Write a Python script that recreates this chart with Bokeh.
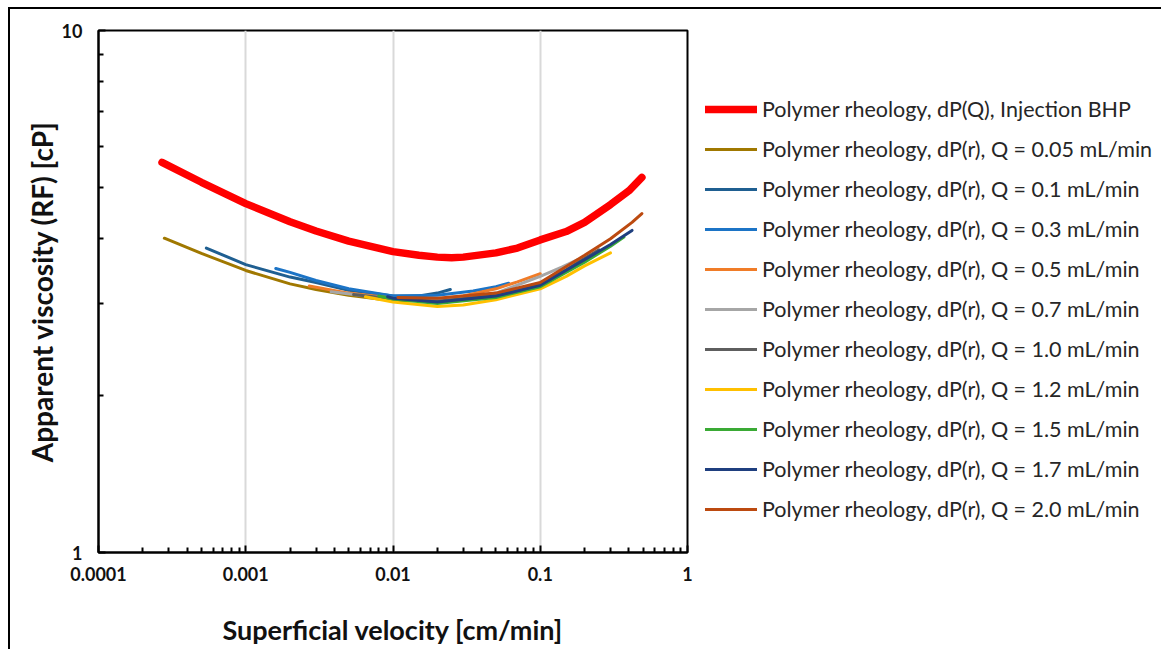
from bokeh.plotting import figure
from bokeh.layouts import row
from bokeh.models import FixedTicker, CustomJSTickFormatter, Legend, LegendItem
from bokeh.embed import file_html
from bokeh.resources import INLINE

# ---------------- data ----------------
x_major = [1e-4, 1e-3, 1e-2, 1e-1, 1.0]
x_minor = [k * 10.0 ** e for e in range(-4, 0) for k in range(2, 10)]
y_major = [1, 10]
y_minor = [2, 3, 4, 5, 6, 7, 8, 9]

red_x = [0.00027, 0.0005, 0.001, 0.002, 0.003, 0.005, 0.01, 0.015, 0.02, 0.025,
         0.03, 0.05, 0.07, 0.1, 0.15, 0.2, 0.3, 0.4, 0.49]
red_y = [5.59, 5.12, 4.66, 4.30, 4.13, 3.95, 3.77, 3.71, 3.68, 3.67,
         3.68, 3.75, 3.83, 3.97, 4.12, 4.29, 4.64, 4.93, 5.23]

q005_x = [0.00028, 0.0005, 0.001, 0.002, 0.003, 0.005, 0.008, 0.0125]
q005_y = [4.00, 3.74, 3.47, 3.27, 3.19, 3.11, 3.06, 3.03]

q01_x = [0.00054, 0.001, 0.002, 0.003, 0.005, 0.01, 0.015, 0.02, 0.0245]
q01_y = [3.83, 3.56, 3.37, 3.29, 3.18, 3.10, 3.10, 3.14, 3.19]

q03_x = [0.0016, 0.002, 0.003, 0.005, 0.01, 0.02, 0.035, 0.05, 0.061]
q03_y = [3.50, 3.44, 3.32, 3.20, 3.10, 3.11, 3.17, 3.23, 3.28]

q05_x = [0.0027, 0.005, 0.01, 0.02, 0.03, 0.05, 0.07, 0.1]
q05_y = [3.24, 3.14, 3.07, 3.06, 3.10, 3.20, 3.30, 3.42]

q07_x = [0.0038, 0.006, 0.01, 0.02, 0.05, 0.1, 0.14, 0.18]
q07_y = [3.16, 3.11, 3.06, 3.04, 3.14, 3.38, 3.52, 3.64]

q10_x = [0.0054, 0.01, 0.02, 0.05, 0.1, 0.15, 0.2, 0.25]
q10_y = [3.12, 3.06, 3.03, 3.11, 3.28, 3.48, 3.66, 3.80]

q12_x = [0.0065, 0.01, 0.02, 0.03, 0.05, 0.1, 0.15, 0.2, 0.3]
q12_y = [3.09, 3.02, 2.96, 2.98, 3.05, 3.20, 3.38, 3.54, 3.75]

q15_x = [0.008, 0.01, 0.02, 0.05, 0.1, 0.2, 0.3, 0.37]
q15_y = [3.10, 3.06, 3.00, 3.08, 3.23, 3.60, 3.86, 4.02]

q17_x = [0.0092, 0.01, 0.02, 0.05, 0.1, 0.2, 0.3, 0.42]
q17_y = [3.09, 3.07, 3.02, 3.10, 3.25, 3.64, 3.89, 4.14]

q20_x = [0.0108, 0.02, 0.05, 0.1, 0.2, 0.3, 0.42, 0.49]
q20_y = [3.08, 3.07, 3.14, 3.29, 3.71, 3.99, 4.29, 4.46]

labels = ["Polymer rheology, dP(Q), Injection BHP",
          "Polymer rheology, dP(r), Q = 0.05 mL/min",
          "Polymer rheology, dP(r), Q = 0.1 mL/min",
          "Polymer rheology, dP(r), Q = 0.3 mL/min",
          "Polymer rheology, dP(r), Q = 0.5 mL/min",
          "Polymer rheology, dP(r), Q = 0.7 mL/min",
          "Polymer rheology, dP(r), Q = 1.0 mL/min",
          "Polymer rheology, dP(r), Q = 1.2 mL/min",
          "Polymer rheology, dP(r), Q = 1.5 mL/min",
          "Polymer rheology, dP(r), Q = 1.7 mL/min",
          "Polymer rheology, dP(r), Q = 2.0 mL/min"]
colors = ["#FF0000", "#A07800", "#1F5F91", "#1C74C6", "#F07C28", "#A6A6A6",
          "#5E5E5E", "#FFC000", "#3AAA35", "#1F3F7F", "#BC4A10"]
widths = [7.5, 3, 3, 3, 3, 3, 3, 3, 3, 3, 3]
series = [(red_x, red_y), (q005_x, q005_y), (q01_x, q01_y), (q03_x, q03_y),
          (q05_x, q05_y), (q07_x, q07_y), (q10_x, q10_y), (q12_x, q12_y),
          (q15_x, q15_y), (q17_x, q17_y), (q20_x, q20_y)]

FONT = "Lato"
H = 640
TOP = 21
BOTTOM = H - 543

p = figure(width=687, height=H, x_axis_type="log", y_axis_type="log",
           x_range=(1e-4, 1), y_range=(1, 10), output_backend="svg",
           toolbar_location=None, min_border_left=88, min_border_right=10,
           min_border_top=TOP, min_border_bottom=BOTTOM)
p.background_fill_color = "white"
p.border_fill_color = "white"
p.outline_line_color = "black"
p.outline_line_width = 2

xt = FixedTicker(ticks=x_major, minor_ticks=x_minor)
yt = FixedTicker(ticks=y_major, minor_ticks=y_minor)
p.xaxis.ticker = xt
p.yaxis.ticker = yt
p.xgrid.ticker = xt
p.xgrid.grid_line_color = "#D9D9D9"
p.xgrid.grid_line_width = 2
p.ygrid.grid_line_color = None

p.xaxis.formatter = CustomJSTickFormatter(code="""
const e = Math.round(Math.log10(tick));
if (e >= 0) return String(Math.round(tick));
return '0.' + '0'.repeat(-e - 1) + '1';
""")
p.yaxis.formatter = CustomJSTickFormatter(code="return String(Math.round(tick));")

for ax in (p.xaxis, p.yaxis):
    ax.axis_line_color = "black"
    ax.axis_line_width = 2
    ax.major_tick_in = 7
    ax.major_tick_out = 0
    ax.minor_tick_in = 5
    ax.minor_tick_out = 0
    ax.major_tick_line_width = 2
    ax.minor_tick_line_width = 2
    ax.major_tick_line_color = "black"
    ax.minor_tick_line_color = "black"
    ax.major_label_text_font = FONT
    ax.major_label_text_font_style = "bold"
    ax.major_label_text_font_size = "18px"
    ax.major_label_text_color = "#111111"
    ax.axis_label_text_font = FONT
    ax.axis_label_text_font_style = "bold"
    ax.axis_label_text_color = "#111111"

p.xaxis.axis_label_text_font_size = "27px"
p.yaxis.axis_label_text_font_size = "28px"
p.xaxis.axis_label = "Superficial velocity [cm/min]"
p.yaxis.axis_label = "Apparent viscosity (RF) [cP]"
p.xaxis.major_label_standoff = 14
p.yaxis.major_label_standoff = 16
p.xaxis.axis_label_standoff = 29
p.yaxis.axis_label_standoff = 0

for (xs, ys), c, w in zip(series, colors, widths):
    p.line(xs, ys, line_color=c, line_width=w, line_cap="round")

# legend panel: a second canvas to the right of the plot frame; its
# renderers carry the same series, but its ranges keep them out of view
pl = figure(width=470, height=H, x_axis_type="log", y_axis_type="log",
            x_range=(100, 1000), y_range=(100, 1000),
            output_backend="svg", toolbar_location=None,
            x_axis_location=None, y_axis_location=None,
            min_border_left=8, min_border_top=TOP, min_border_right=0,
            min_border_bottom=BOTTOM, outline_line_color=None)
pl.xgrid.visible = False
pl.ygrid.visible = False
pl.border_fill_color = "white"
items = []
for (xs, ys), c, w, lab in zip(series, colors, widths, labels):
    r = pl.line(xs, ys, line_color=c, line_width=w, line_cap="round")
    items.append(LegendItem(label=lab, renderers=[r]))

legend = Legend(items=items, location=(0, 23))
legend.glyph_width = 52
legend.glyph_height = 40
legend.label_height = 40
legend.spacing = 0
legend.padding = 0
legend.margin = 0
legend.label_standoff = 5
legend.border_line_color = None
legend.background_fill_alpha = 0
legend.label_text_font = FONT
legend.label_text_font_size = "21.5px"
legend.label_text_color = "#262626"
pl.add_layout(legend, "center")

lay = row(p, pl, styles={"border-left": "2px solid black",
                         "border-top": "2px solid black",
                         "margin-left": "8px", "margin-top": "7px"})

open("out.html", "w").write(file_html(lay, INLINE))
